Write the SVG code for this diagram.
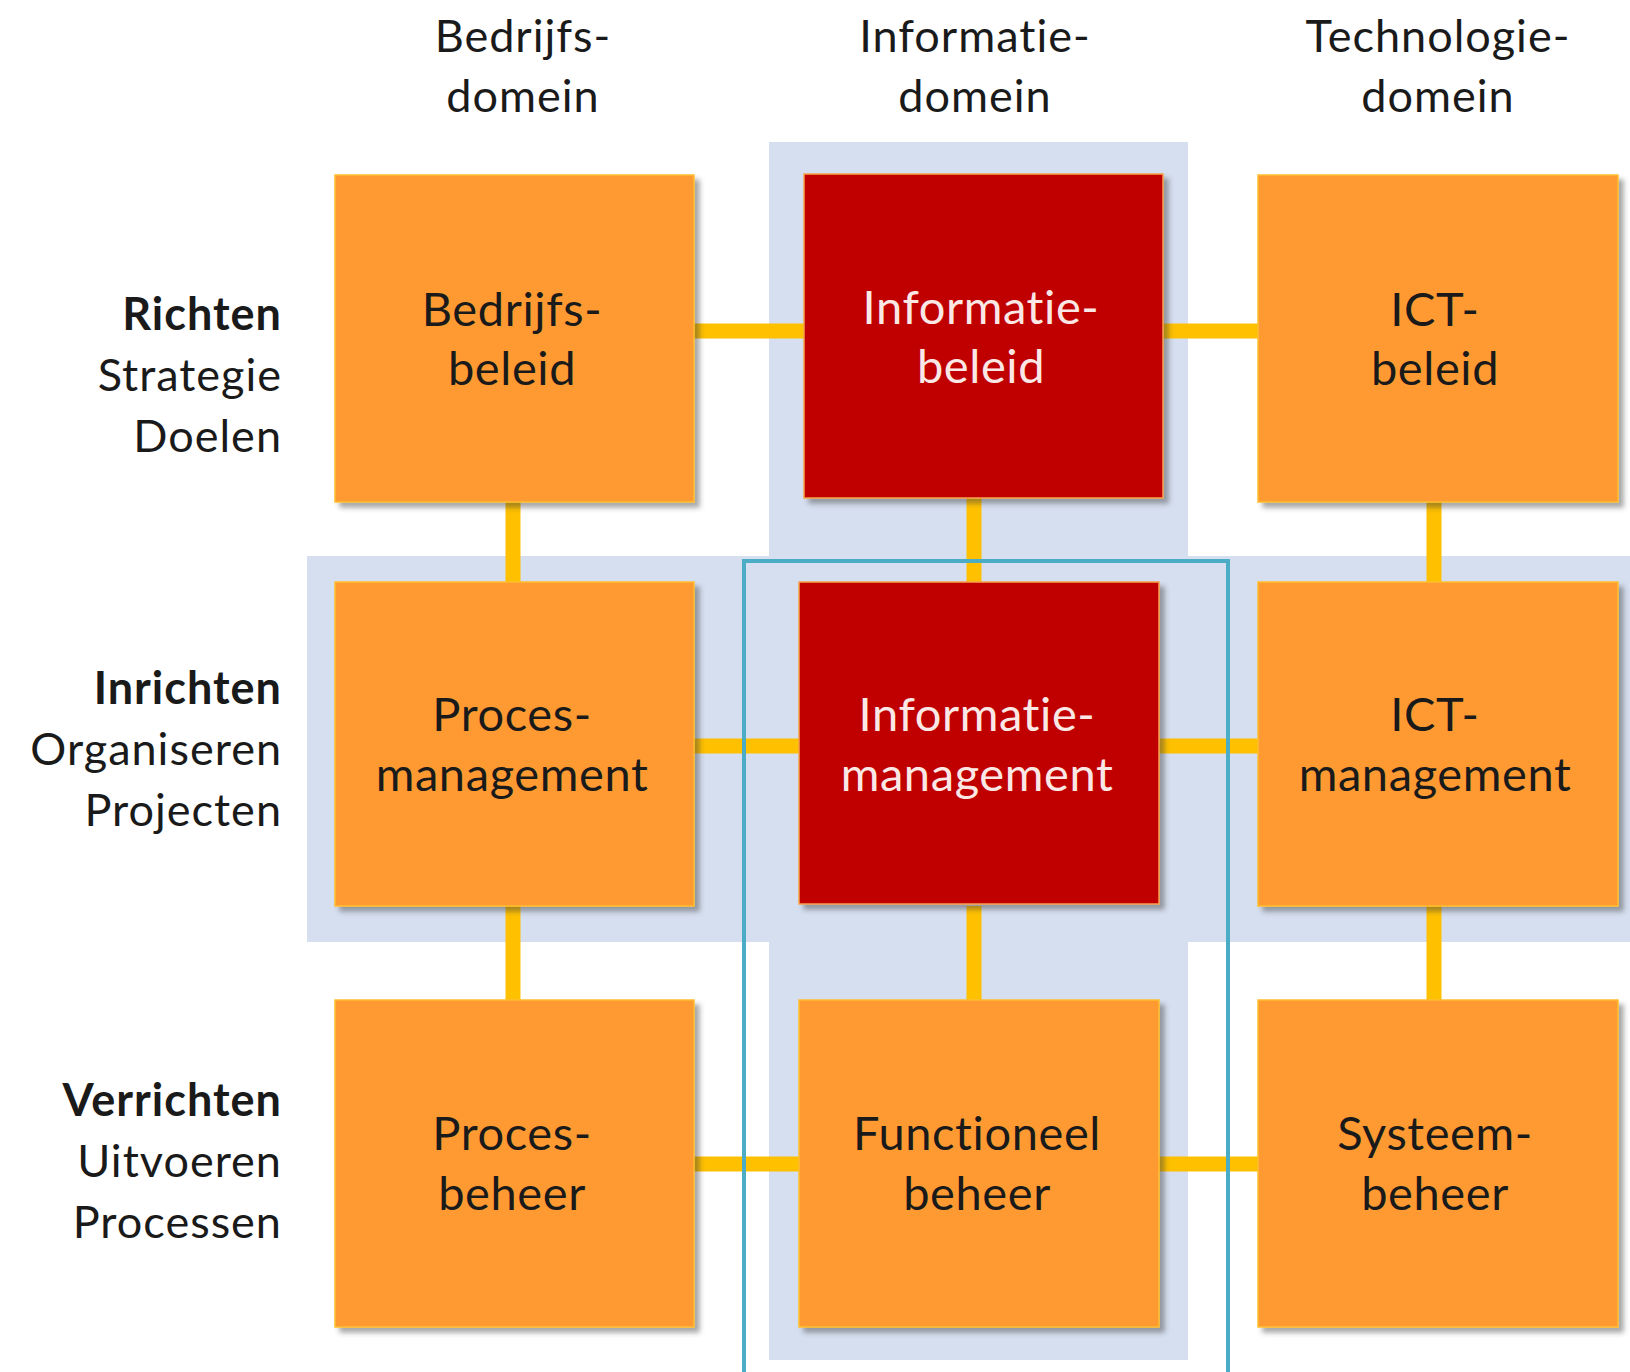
<svg xmlns="http://www.w3.org/2000/svg" width="1630" height="1372" viewBox="0 0 1630 1372">
<defs>
<filter id="sh" x="-10%" y="-10%" width="130%" height="130%">
<feDropShadow dx="5" dy="5" stdDeviation="2.5" flood-color="#404040" flood-opacity="0.45"/>
</filter>
<style>
.band{fill:#D6DFF0}
.or{fill:#FF9A33;stroke:#FFBF2E;stroke-width:1.5;filter:url(#sh)}
.rd{fill:#C00000;stroke:#F7A24A;stroke-width:1.5;filter:url(#sh)}
.con{stroke:#FFC000;stroke-width:15;fill:none}
.teal{fill:none;stroke:#4BACC6;stroke-width:4}
.t{font-family:Lato,"Open Sans","Liberation Sans",sans-serif;font-size:47px;text-anchor:middle;fill:#1A1A1A;letter-spacing:0.6px}
.tw{fill:#FBE8E6}
.hd{font-family:Lato,"Open Sans","Liberation Sans",sans-serif;font-size:45px;text-anchor:middle;fill:#1A1A1A;letter-spacing:1px}
.lb{font-family:Lato,"Open Sans","Liberation Sans",sans-serif;font-size:45px;text-anchor:end;fill:#1A1A1A;letter-spacing:1px}
.b{font-weight:bold}
</style>
</defs>
<rect width="1630" height="1372" fill="#FFFFFF"/>
<g id="bands">
<rect class="band" x="769" y="142" width="419" height="1218"/>
<rect class="band" x="307" y="556" width="1323" height="386"/>
</g>
<g id="headers">
<text class="hd" x="523" y="52">Bedrijfs-</text>
<text class="hd" x="523" y="112">domein</text>
<text class="hd" x="975" y="52">Informatie-</text>
<text class="hd" x="975" y="112">domein</text>
<text class="hd" x="1438" y="52">Technologie-</text>
<text class="hd" x="1438" y="112">domein</text>
</g>
<g id="row-labels">
<text class="lb b" x="282" y="330">Richten</text>
<text class="lb" x="282" y="391">Strategie</text>
<text class="lb" x="282" y="452">Doelen</text>
<text class="lb b" x="282" y="704">Inrichten</text>
<text class="lb" x="282" y="765">Organiseren</text>
<text class="lb" x="282" y="826">Projecten</text>
<text class="lb b" x="282" y="1116">Verrichten</text>
<text class="lb" x="282" y="1177">Uitvoeren</text>
<text class="lb" x="282" y="1238">Processen</text>
</g>
<g id="connectors">
<line class="con" x1="694" y1="331" x2="1258" y2="331"/>
<line class="con" x1="694" y1="746" x2="1258" y2="746"/>
<line class="con" x1="694" y1="1164" x2="1258" y2="1164"/>
<line class="con" x1="513" y1="502" x2="513" y2="582"/>
<line class="con" x1="513" y1="906" x2="513" y2="1000"/>
<line class="con" x1="974" y1="498" x2="974" y2="582"/>
<line class="con" x1="974" y1="906" x2="974" y2="1000"/>
<line class="con" x1="1434" y1="502" x2="1434" y2="582"/>
<line class="con" x1="1434" y1="906" x2="1434" y2="1000"/>
</g>
<g id="highlight">
<rect class="teal" x="744" y="561" width="484" height="840"/>
</g>
<g id="bedrijfsbeleid">
<rect class="or" x="335" y="175" width="359" height="327"/>
<text class="t" x="512" y="326">Bedrijfs-</text>
<text class="t" x="512" y="385">beleid</text>
</g>
<g id="informatiebeleid">
<rect class="rd" x="804" y="174" width="359" height="324"/>
<text class="t tw" x="981" y="324">Informatie-</text>
<text class="t tw" x="981" y="383">beleid</text>
</g>
<g id="ictbeleid">
<rect class="or" x="1258" y="175" width="360" height="327"/>
<text class="t" x="1435" y="326">ICT-</text>
<text class="t" x="1435" y="385">beleid</text>
</g>
<g id="procesmanagement">
<rect class="or" x="335" y="582" width="359" height="324"/>
<text class="t" x="512" y="731">Proces-</text>
<text class="t" x="512" y="791">management</text>
</g>
<g id="informatiemanagement">
<rect class="rd" x="799" y="582" width="360" height="322"/>
<text class="t tw" x="977" y="731">Informatie-</text>
<text class="t tw" x="977" y="791">management</text>
</g>
<g id="ictmanagement">
<rect class="or" x="1258" y="582" width="360" height="324"/>
<text class="t" x="1435" y="731">ICT-</text>
<text class="t" x="1435" y="791">management</text>
</g>
<g id="procesbeheer">
<rect class="or" x="335" y="1000" width="359" height="327"/>
<text class="t" x="512" y="1150">Proces-</text>
<text class="t" x="512" y="1210">beheer</text>
</g>
<g id="functioneelbeheer">
<rect class="or" x="799" y="1000" width="360" height="327"/>
<text class="t" x="977" y="1150">Functioneel</text>
<text class="t" x="977" y="1210">beheer</text>
</g>
<g id="systeembeheer">
<rect class="or" x="1258" y="1000" width="360" height="327"/>
<text class="t" x="1435" y="1150">Systeem-</text>
<text class="t" x="1435" y="1210">beheer</text>
</g>
</svg>
